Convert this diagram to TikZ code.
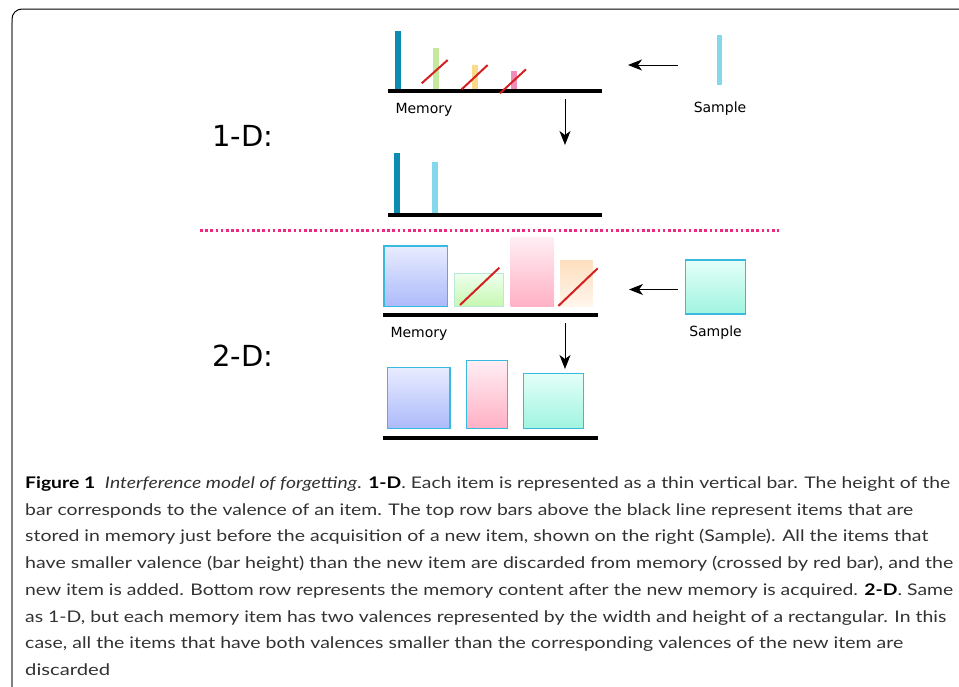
\documentclass[tikz,border=0pt]{standalone}
\usepackage{fontspec}
\setmainfont{Lato}
\newfontfamily\capfont{Lato}
\newfontfamily\dejavu{DejaVu Sans}
\usepackage{graphicx}
\usetikzlibrary{arrows.meta}
\definecolor{tealdark}{RGB}{12,140,176}
\definecolor{barcyan}{RGB}{132,216,236}
\definecolor{bargreen}{RGB}{196,232,158}
\definecolor{barorange}{RGB}{252,218,140}
\definecolor{barpink}{RGB}{240,140,186}
\definecolor{slashred}{RGB}{212,32,32}
\definecolor{dotpink}{RGB}{240,40,130}
\definecolor{edgecyan}{RGB}{56,186,222}
\definecolor{edgegreen}{RGB}{184,232,214}
\definecolor{blueT}{RGB}{232,236,255}
\definecolor{blueB}{RGB}{172,186,250}
\definecolor{greenT}{RGB}{238,255,238}
\definecolor{greenB}{RGB}{198,248,176}
\definecolor{pinkT}{RGB}{255,238,244}
\definecolor{pinkB}{RGB}{255,176,196}
\definecolor{orangeT}{RGB}{253,222,190}
\definecolor{orangeB}{RGB}{255,246,236}
\definecolor{cyanT}{RGB}{228,255,248}
\definecolor{cyanB}{RGB}{160,244,224}
\definecolor{captext}{RGB}{50,50,50}
\newcommand\ibox[6]{\node[inner sep=0pt, outer sep=0pt, anchor=north west, rectangle,
  minimum width={#4pt-#2pt}, minimum height={#5pt-#3pt}, #6] (#1) at (#2,#3) {};}
\newcommand\capline[3]{\node[capt] at (25,#1) {\resizebox{#2pt}{\height}{#3}};}
\tikzset{
  memline/.style={line width=4pt, black},
  slash/.style={line width=2pt, slashred},
  arr/.style={line width=1pt, -{Stealth[length=14pt, width=11pt, inset=4pt]}},
  lab/.style={font=\dejavu\fontsize{14}{16}\selectfont, anchor=base, inner sep=0pt},
  dimlab/.style={font=\dejavu\fontsize{29}{32}\selectfont, anchor=base, inner sep=0pt},
  capt/.style={anchor=base west, inner sep=0pt, text=captext, font=\capfont\fontsize{16}{18}\selectfont},
  box2d/.style={draw=edgecyan, line width=1.2pt},
}
\begin{document}
\begin{tikzpicture}[x=1pt, y=-1pt]
\useasboundingbox (0,0) rectangle (959,686);
% frame
\draw[black, line width=1pt, rounded corners=10pt] (12,40) -- (12,9) -- (962,9);
\draw[gray, line width=1.3pt] (12,690) -- (12,22);
% labels
\node[dimlab] (d1) at (243,146) {1-D:};
\node[dimlab] (d2) at (243,366) {2-D:};
% ===== 1-D top
\ibox{b1}{395}{30.7}{400.7}{90}{fill=tealdark}
\ibox{b2}{433}{48}{439}{90}{fill=bargreen}
\ibox{b3}{471.7}{65}{477.7}{90}{fill=barorange}
\ibox{b4}{510.7}{71}{516.7}{90}{fill=barpink}
\draw[memline] (388,90.5) -- (602,90.5);
\draw[slash] (421.7,83.3) -- (447.7,60);
\draw[slash] (461.7,89.3) -- (487.7,65);
\draw[slash] (500,93.3) -- (526,69.3);
\ibox{s1}{716.7}{35}{722.3}{85}{fill=barcyan}
\node[lab] (mem1) at (424,113.5) {Memory};
\node[lab] (smp1) at (720,112.5) {Sample};
\coordinate (la1) at (678,65);
\coordinate (lb1) at (628,65);
\draw[arr] (la1) -- (lb1);
\coordinate (da1) at (565,99);
\coordinate (db1) at (565,145);
\draw[arr] (da1) -- (db1);
% ===== 1-D bottom
\ibox{c1}{394}{153.3}{400}{213}{fill=tealdark}
\ibox{c2}{432.3}{161.7}{437.7}{213}{fill=barcyan}
\draw[memline] (388,215) -- (602,215);
% separator
\draw[dotpink, line width=2.5pt, dash pattern=on 2.5pt off 2.7pt] (200,230.7) -- (779,230.7);
% ===== 2-D top
\ibox{r1}{384}{246}{447.3}{306.7}{box2d, top color=blueT, bottom color=blueB}
\ibox{r2}{454}{273.3}{503.3}{306.7}{draw=edgegreen, line width=0.8pt, top color=greenT, bottom color=greenB}
\ibox{r3}{510.7}{237.3}{554}{306.7}{top color=pinkT, bottom color=pinkB}
\ibox{r4}{560}{260}{592.7}{306.7}{top color=orangeT, bottom color=orangeB}
\draw[slash] (460,305) -- (499.3,267.7);
\draw[slash] (558.3,306) -- (597.7,268.3);
\draw[memline] (383.3,315) -- (598.3,315);
\ibox{s2}{685.7}{260}{745.7}{314}{box2d, top color=cyanT, bottom color=cyanB}
\node[lab] (mem2) at (419,337.3) {Memory};
\node[lab] (smp2) at (715.5,336) {Sample};
\coordinate (la2) at (678,289.5);
\coordinate (lb2) at (629,289.5);
\draw[arr] (la2) -- (lb2);
\coordinate (da2) at (565,323);
\coordinate (db2) at (565,369);
\draw[arr] (da2) -- (db2);
% ===== 2-D bottom
\ibox{q1}{387.3}{367.7}{450}{428.3}{box2d, top color=blueT, bottom color=blueB}
\ibox{q2}{466.3}{360.7}{507.3}{428.3}{box2d, top color=pinkT, bottom color=pinkB}
\ibox{q3}{523.7}{373.3}{583.3}{428.3}{box2d, top color=cyanT, bottom color=cyanB}
\draw[memline] (383.3,438.3) -- (598.3,438.3);
% ===== caption
\capline{488.5}{925}{\textcolor{black}{\textbf{Figure 1}}\enspace\textit{Interference model of forgetting}. \textcolor{black}{\textbf{1-D}}. Each item is represented as a thin vertical bar. The height of the}
\capline{515.2}{888}{bar corresponds to the valence of an item. The top row bars above the black line represent items that are}
\capline{541.9}{903}{stored in memory just before the acquisition of a new item, shown on the right (Sample). All the items that}
\capline{568.6}{928}{have smaller valence (bar height) than the new item are discarded from memory (crossed by red bar), and the}
\capline{595.3}{928}{new item is added. Bottom row represents the memory content after the new memory is acquired. \textcolor{black}{\textbf{2-D}}. Same}
\capline{622}{921}{as 1-D, but each memory item has two valences represented by the width and height of a rectangular. In this}
\capline{648.7}{878}{case, all the items that have both valences smaller than the corresponding valences of the new item are}
\capline{675.4}{85}{discarded}
\end{tikzpicture}
\end{document}
